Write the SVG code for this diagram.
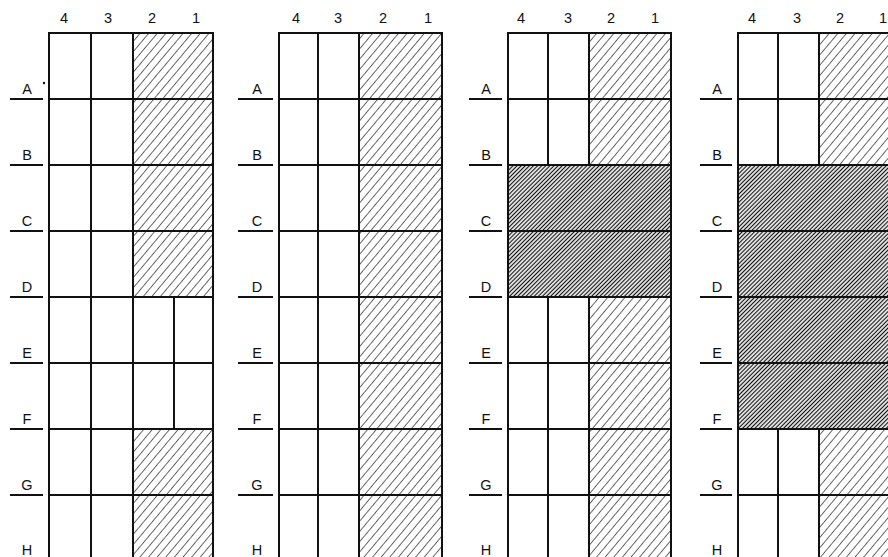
<svg xmlns="http://www.w3.org/2000/svg" width="888" height="557" viewBox="0 0 888 557">
<defs>
<pattern id="light" patternUnits="userSpaceOnUse" width="6.6" height="10" patternTransform="rotate(40)"><line x1="3.3" y1="-1" x2="3.3" y2="11" stroke="#222" stroke-width="0.7"/></pattern>
<pattern id="dense" patternUnits="userSpaceOnUse" width="2.9" height="10" patternTransform="rotate(45)"><line x1="1.45" y1="-1" x2="1.45" y2="11" stroke="#111" stroke-width="1.25"/></pattern>
</defs>
<style>
.g{stroke:#111;stroke-width:2;fill:none;stroke-linecap:square}
.t{stroke:#111;stroke-width:2}
.lbl{font-family:"Liberation Sans",Arial,sans-serif;font-size:14.5px;fill:#111;text-anchor:middle}
.lh{fill:url(#light)}
.dh{fill:url(#dense)}
</style>
<rect width="888" height="557" fill="#fff"/>

<g id="panel1">
<rect class="lh" x="133" y="33" width="80" height="264"/>
<rect class="lh" x="133" y="429" width="80" height="128"/>
<path class="g" d="M49 33V557M91 33V557M133 33V557M213 33V557M174 297V429M49 33H213M49 99H213M49 165H213M49 231H213M49 297H213M49 363H213M49 429H213M49 495H213"/>
<path class="t" d="M10 99H43M10 165H43M10 231H43M10 297H43M10 363H43M10 429H43M10 495H43"/>
<circle cx="44" cy="83" r="1.2" fill="#111"/>
<g class="lbl">
<text x="64" y="23">4</text><text x="108" y="23">3</text><text x="152" y="23">2</text><text x="196" y="23">1</text>
<text x="27" y="94">A</text><text x="27" y="160">B</text><text x="27" y="226">C</text><text x="27" y="292">D</text><text x="27" y="358">E</text><text x="27" y="424">F</text><text x="27" y="490">G</text><text x="27" y="555">H</text>
</g>
</g>

<g id="panel2">
<rect class="lh" x="359" y="33" width="83" height="524"/>
<path class="g" d="M279 33V557M318 33V557M359 33V557M442 33V557M279 33H442M279 99H442M279 165H442M279 231H442M279 297H442M279 363H442M279 429H442M279 495H442"/>
<path class="t" d="M238 99H273M238 165H273M238 231H273M238 297H273M238 363H273M238 429H273M238 495H273"/>
<g class="lbl">
<text x="296" y="23">4</text><text x="338" y="23">3</text><text x="383" y="23">2</text><text x="428" y="23">1</text>
<text x="257" y="94">A</text><text x="257" y="160">B</text><text x="257" y="226">C</text><text x="257" y="292">D</text><text x="257" y="358">E</text><text x="257" y="424">F</text><text x="257" y="490">G</text><text x="257" y="555">H</text>
</g>
</g>

<g id="panel3">
<rect class="lh" x="589" y="33" width="82" height="132"/>
<rect class="dh" x="508" y="165" width="163" height="132"/>
<rect class="lh" x="589" y="297" width="82" height="260"/>
<path class="g" d="M508 33V557M548 33V165M589 33V165M548 297V557M589 297V557M671 33V557M508 33H671M508 99H671M508 165H671M508 231H671M508 297H671M508 363H671M508 429H671M508 495H671"/>
<path class="t" d="M469 99H502M469 165H502M469 231H502M469 297H502M469 363H502M469 429H502M469 495H502"/>
<g class="lbl">
<text x="521" y="23">4</text><text x="568" y="23">3</text><text x="611" y="23">2</text><text x="655" y="23">1</text>
<text x="486" y="94">A</text><text x="486" y="160">B</text><text x="486" y="226">C</text><text x="486" y="292">D</text><text x="486" y="358">E</text><text x="486" y="424">F</text><text x="486" y="490">G</text><text x="486" y="555">H</text>
</g>
</g>

<g id="panel4">
<rect class="lh" x="819" y="33" width="82" height="132"/>
<rect class="dh" x="738" y="165" width="163" height="264"/>
<rect class="lh" x="819" y="429" width="82" height="128"/>
<path class="g" d="M738 33V557M778 33V165M819 33V165M778 429V557M819 429V557M738 33H901M738 99H901M738 165H901M738 231H901M738 297H901M738 363H901M738 429H901M738 495H901"/>
<path class="t" d="M700 99H732M700 165H732M700 231H732M700 297H732M700 363H732M700 429H732M700 495H732"/>
<g class="lbl">
<text x="752" y="23">4</text><text x="797" y="23">3</text><text x="840" y="23">2</text><text x="883" y="23">1</text>
<text x="717" y="94">A</text><text x="717" y="160">B</text><text x="717" y="226">C</text><text x="717" y="292">D</text><text x="717" y="358">E</text><text x="717" y="424">F</text><text x="717" y="490">G</text><text x="717" y="555">H</text>
</g>
</g>
</svg>
